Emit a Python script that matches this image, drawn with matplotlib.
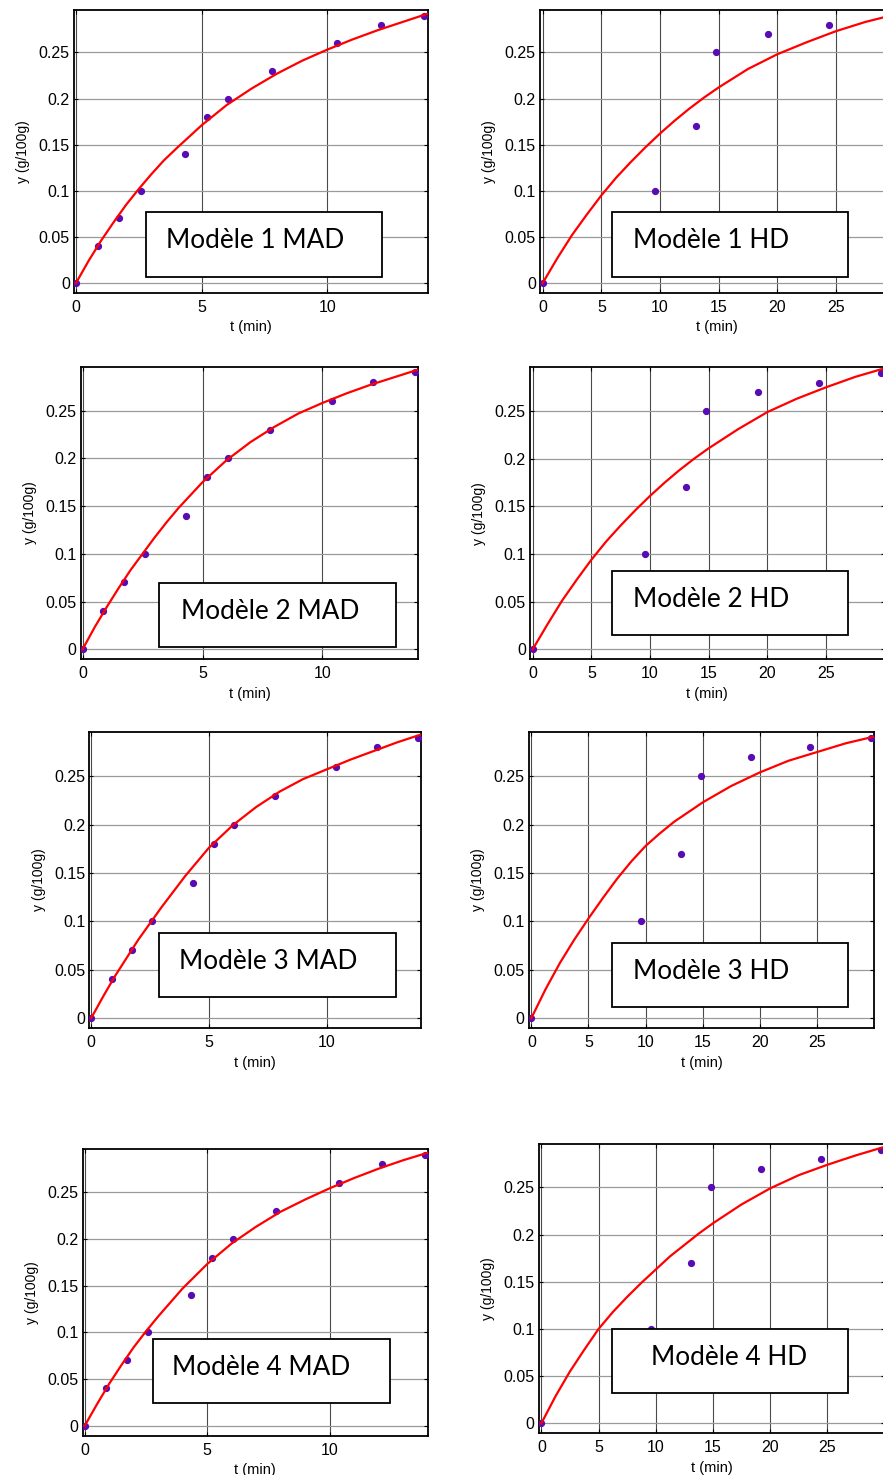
import matplotlib
matplotlib.use("Agg")
import matplotlib.pyplot as plt
from matplotlib.patches import Rectangle

# drying data: MAD (microwave-assisted) and HD (hot-air) runs
t_mad = [0, 0.87, 1.73, 2.6, 4.33, 5.2, 6.07, 7.8, 10.4, 12.13, 13.87]
y_mad = [0, 0.04, 0.07, 0.10, 0.14, 0.18, 0.20, 0.23, 0.26, 0.28, 0.29]
t_hd = [0, 9.6, 13.1, 14.8, 19.2, 24.4, 29.7]
y_hd = [0, 0.10, 0.17, 0.25, 0.27, 0.28, 0.29]

# fitted model curves, sampled on a time grid (finer where they bend most)
t_fit_mad = [0, 0.5, 1, 1.5, 2, 2.5, 3, 3.5, 4, 5, 6, 7, 8, 9, 10, 11, 12, 13, 14]
fit_mad = {
    1: [0, 0.024, 0.046, 0.066, 0.085, 0.102, 0.118, 0.133, 0.146, 0.171, 0.193,
        0.211, 0.227, 0.241, 0.253, 0.264, 0.274, 0.283, 0.292],
    2: [0, 0.023, 0.044, 0.064, 0.083, 0.100, 0.117, 0.133, 0.148, 0.175, 0.198,
        0.217, 0.233, 0.247, 0.258, 0.268, 0.277, 0.285, 0.293],
    3: [0, 0.022, 0.043, 0.062, 0.081, 0.098, 0.115, 0.131, 0.147, 0.176, 0.199,
        0.218, 0.234, 0.247, 0.257, 0.267, 0.276, 0.285, 0.293],
    4: [0, 0.023, 0.045, 0.065, 0.084, 0.101, 0.117, 0.132, 0.147, 0.173, 0.195,
        0.213, 0.229, 0.242, 0.254, 0.265, 0.275, 0.284, 0.292],
}
t_fit_hd = [0, 1.25, 2.5, 3.75, 5, 6.25, 7.5, 8.75, 10, 11.25, 12.5, 13.75, 15,
            17.5, 20, 22.5, 25, 27.5, 30]
fit_hd = {
    1: [0, 0.027, 0.052, 0.074, 0.095, 0.114, 0.131, 0.147, 0.162, 0.176, 0.189,
        0.201, 0.212, 0.232, 0.248, 0.261, 0.273, 0.283, 0.291],
    2: [0, 0.026, 0.051, 0.073, 0.094, 0.113, 0.130, 0.146, 0.161, 0.175, 0.188,
        0.200, 0.211, 0.231, 0.249, 0.263, 0.275, 0.286, 0.295],
    3: [0, 0.030, 0.057, 0.081, 0.103, 0.124, 0.144, 0.162, 0.178, 0.191, 0.203,
        0.213, 0.223, 0.240, 0.254, 0.266, 0.275, 0.284, 0.291],
    4: [0, 0.029, 0.055, 0.078, 0.100, 0.118, 0.134, 0.149, 0.163, 0.177, 0.189,
        0.201, 0.212, 0.232, 0.249, 0.263, 0.274, 0.284, 0.293],
}

yticks = [0, 0.05, 0.1, 0.15, 0.2, 0.25]
yticklabels = ["0", "0.05", "0.1", "0.15", "0.2", "0.25"]
xticks_mad = [0, 5, 10]
xticks_hd = [0, 5, 10, 15, 20, 25]

W, H = 883, 1475
fig = plt.figure(figsize=(W / 100, H / 100), dpi=100)
plt.rcParams["font.family"] = ["Liberation Sans", "DejaVu Sans"]


def px_axes(left, top, right, bottom):
    return fig.add_axes([left / W, 1 - bottom / H, (right - left) / W, (bottom - top) / H])


def px_box(left, top, right, bottom, text, text_x):
    fig.patches.append(Rectangle((left / W, 1 - bottom / H), (right - left) / W,
                                 (bottom - top) / H, transform=fig.transFigure,
                                 facecolor="white", edgecolor="black", lw=1.3, zorder=10))
    fig.text(text_x / W, 1 - (top + 36) / H, text, family="Lato", fontsize=18.8,
             va="baseline", ha="left", zorder=11)


# (axes box in px, label box in px, text start x)
panels = [
    ("MAD", 1, (74, 10, 427.7, 292.7), (145.7, 212.3, 382, 276.7), 166),
    ("HD", 1, (540, 10, 894.5, 292.7), (611.7, 212.3, 848.3, 276.7), 633),
    ("MAD", 2, (80.7, 366.7, 418.3, 659.3), (159.3, 582.7, 396, 646.7), 181),
    ("HD", 2, (530, 367.3, 884.7, 659.3), (611.7, 570.7, 848.3, 635), 633),
    ("MAD", 3, (89.3, 731.7, 420.7, 1028.3), (159.3, 932.7, 396, 996.7), 178.7),
    ("HD", 3, (528.7, 731.7, 874.3, 1028.3), (611.7, 942.7, 848.3, 1006.7), 633),
    ("MAD", 4, (82.7, 1149, 427.7, 1435.7), (153.3, 1339, 390, 1403.3), 172.3),
    ("HD", 4, (538.7, 1144, 884.6, 1433.3), (611.7, 1329, 848.3, 1393.3), 650.7),
]

for kind, n, axbox, lbox, tx in panels:
    ax = px_axes(*axbox)
    if kind == "MAD":
        ax.plot(t_mad, y_mad, "o", color="#5a0cb4", ms=4.2, zorder=3)
        ax.plot(t_fit_mad, fit_mad[n], color="red", lw=1.6, zorder=4)
        ax.set_xlim(-0.08, 14.0)
        ax.set_xticks(xticks_mad)
    else:
        ax.plot(t_hd, y_hd, "o", color="#5a0cb4", ms=4.2, zorder=3)
        ax.plot(t_fit_hd, fit_hd[n], color="red", lw=1.6, zorder=4)
        ax.set_xlim(-0.23, 30.0)
        ax.set_xticks(xticks_hd)
    ax.set_ylim(-0.0105, 0.296)
    ax.set_yticks(yticks)
    ax.set_yticklabels(yticklabels)
    ax.grid(axis="x", color="#4a4a4a", lw=0.8)
    ax.grid(axis="y", color="#9a9a9a", lw=0.9)
    ax.set_axisbelow(True)
    ax.tick_params(direction="in", length=3, width=0.8, top=True, right=True,
                   labelsize=11.5)
    ax.tick_params(axis="x", pad=5)
    ax.tick_params(axis="y", pad=3)
    for sp in ax.spines.values():
        sp.set_linewidth(1.3)
    ax.set_xlabel("t (min)", fontsize=10.5, labelpad=4)
    ax.set_ylabel("y (g/100g)", fontsize=10, labelpad=6)
    px_box(*lbox, f"Modèle {n} {kind}", tx)

fig.savefig("out.png", dpi=100)
